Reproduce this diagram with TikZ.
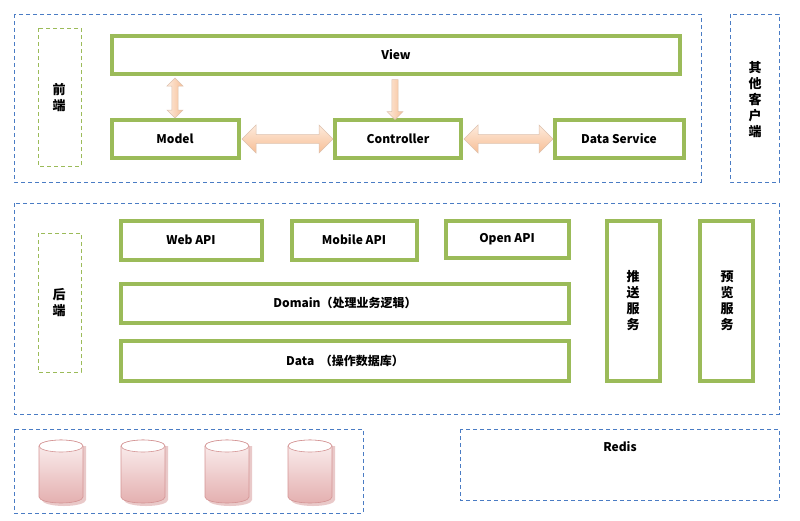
\documentclass[tikz,border=0pt]{standalone}
\usepackage{fontspec}
\setmainfont{Noto Sans CJK SC}
\usetikzlibrary{shapes.arrows,shapes.geometric}
\definecolor{bl}{HTML}{4A7CC4}
\definecolor{gr}{HTML}{9BBB59}
\definecolor{ar1}{HTML}{FDEBDD}
\definecolor{ar2}{HTML}{F7BE95}
\definecolor{cy1}{HTML}{FBF0F0}
\definecolor{cy2}{HTML}{E4B0B0}
\definecolor{cyl}{HTML}{D49494}
\begin{document}
\begin{tikzpicture}[x=1pt,y=-1pt,
  font=\fontsize{12}{15}\selectfont\bfseries,
  bd/.style={draw=bl,dash pattern=on 4pt off 3pt,line width=0.9pt},
  gd/.style={draw=gr,dash pattern=on 4pt off 3pt,line width=0.9pt},
  gb/.style={draw=gr,line width=3.5pt,fill=white},
  arr/.style={draw=ar2!80!black!60,line width=0.5pt,top color=ar1,bottom color=ar2,shading angle=0},
  vt/.style={align=center,font=\fontsize{13}{16}\selectfont\bfseries}]
\useasboundingbox (0,0) rectangle (800,520);
% frames
\draw[bd] (14,14) rectangle (701,182);
\draw[bd] (730,14) rectangle (779,182);
\node[vt] (qt) at (755,100) {其\\他\\客\\户\\端};
\draw[gd] (38,28) rectangle (81,166);
\node[vt] (qd) at (59,98) {前\\端};
\draw[bd] (14,203) rectangle (779,414);
\draw[gd] (38,233) rectangle (81,372);
\node[vt] (hd) at (59,303) {后\\端};
\draw[bd] (14,429) rectangle (363,513);
\draw[bd] (460,429) rectangle (779,500);
\node (redis) at (620,447) {Redis};
% front boxes
\draw[gb] (112,36) rectangle (680,74); \node (view) at (396,55) {View};
\draw[gb] (112,120) rectangle (239,158); \node (model) at (175,139) {Model};
\draw[gb] (335,120) rectangle (461,158); \node (ctrl) at (398,139) {Controller};
\draw[gb] (555,120) rectangle (684,158); \node (ds) at (619,139) {Data Service};
% arrows
\node[double arrow,arr,minimum height=40pt,minimum width=16pt,double arrow head extend=3.5pt,rotate=90,inner sep=2pt,shading angle=90] (a1) at (175,98) {};
\node[single arrow,arr,minimum height=40pt,minimum width=16pt,single arrow head extend=3.5pt,rotate=-90,inner sep=2pt,shading angle=90] (a2) at (395,98) {};
\node[double arrow,arr,minimum height=91pt,minimum width=28pt,double arrow head extend=7pt,inner sep=3pt] (a3) at (287.5,139) {};
\node[double arrow,arr,minimum height=89pt,minimum width=28pt,double arrow head extend=7pt,inner sep=3pt] (a4) at (508.5,139) {};
% back boxes
\draw[gb] (121,221) rectangle (262,260); \node (web) at (191,240) {Web API};
\draw[gb] (292,221) rectangle (417,260); \node (mob) at (354,240) {Mobile API};
\draw[gb] (446,221) rectangle (569,258); \node (open) at (507,239) {Open API};
\draw[gb] (121,284) rectangle (569,323); \node (dom) at (345,303) {Domain（处理业务逻辑）};
\draw[gb] (121,341) rectangle (569,381); \node (data) at (345,361) {Data \ （操作数据库）};
\draw[gb] (607,221) rectangle (660,381); \node[vt] (ts) at (633,301) {推\\送\\服\\务};
\draw[gb] (700,221) rectangle (753,381); \node[vt] (yl) at (727,301) {预\\览\\服\\务};
% cylinders
\foreach \cx/\nm in {61/c1,143/c2,227/c3,310/c4}{
  \fill[cyl,opacity=0.5] (\cx-19,446) -- (\cx-19,500) arc[start angle=180,end angle=0,x radius=22,y radius=6] -- (\cx+25,446) -- cycle;
  \shade[top color=cy1,bottom color=cy2,draw=cyl,line width=0.6pt] (\cx-22,446) -- (\cx-22,497) arc[start angle=180,end angle=0,x radius=22,y radius=6] -- (\cx+22,446) arc[start angle=0,end angle=-180,x radius=22,y radius=6];
  \draw[cyl,fill=white,line width=0.6pt] (\cx,446) ellipse[x radius=22,y radius=6];
  \coordinate (\nm) at (\cx,470);
}
\end{tikzpicture}
\end{document}
